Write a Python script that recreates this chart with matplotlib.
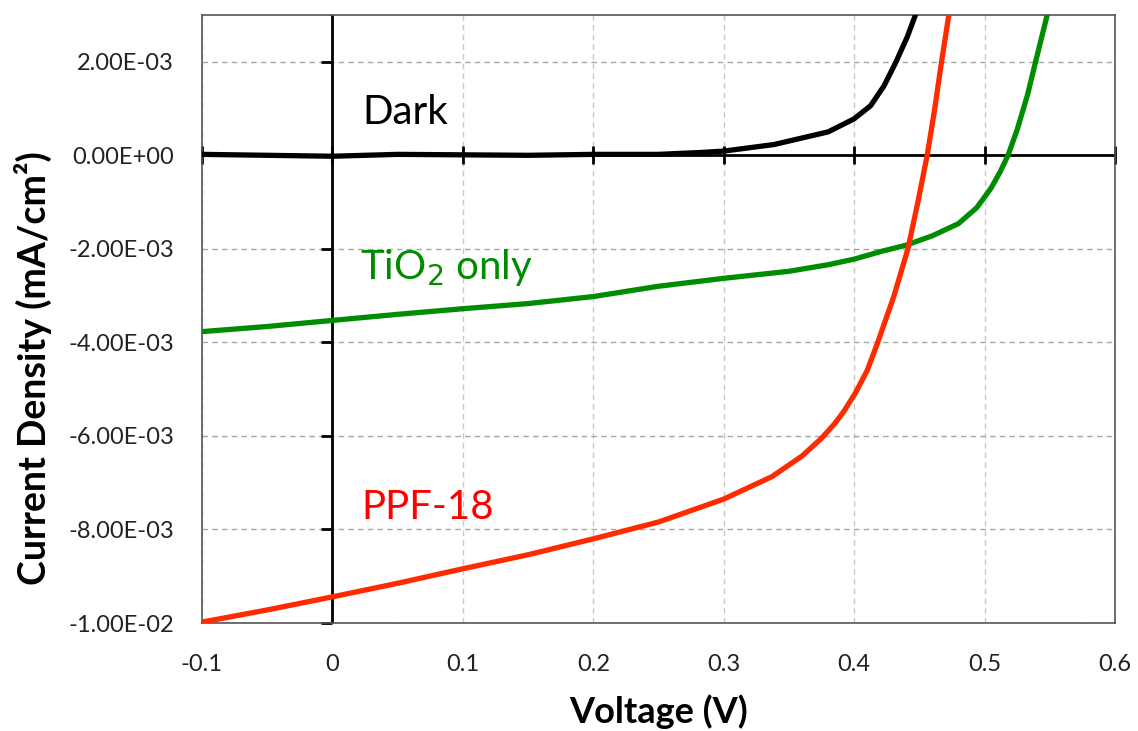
import matplotlib
matplotlib.use("Agg")
import matplotlib.pyplot as plt
from matplotlib import markers
import numpy as np

# Data
v_dark = [-0.1, -0.05, 0.0, 0.05, 0.1, 0.15, 0.2, 0.25, 0.282, 0.3, 0.3385, 0.38,
          0.4, 0.4126, 0.4228, 0.4318, 0.4407, 0.447]
j_dark = [0.00002, 0.0, -0.00002, 0.00002, 0.00001, 0.0, 0.00002, 0.00002, 0.00006,
          0.00009, 0.00023, 0.0005, 0.00078, 0.00106, 0.00148, 0.00198, 0.00253, 0.003]

v_tio2 = [-0.1, -0.05, 0.0, 0.05, 0.1, 0.15, 0.2, 0.25, 0.3, 0.35, 0.38, 0.4, 0.42,
          0.44, 0.46, 0.48, 0.494, 0.505, 0.512, 0.518, 0.525, 0.533, 0.54, 0.548]
j_tio2 = [-0.00377, -0.00366, -0.00353, -0.0034, -0.00328, -0.00317, -0.00302,
          -0.0028, -0.00263, -0.00248, -0.00234, -0.00222, -0.00206, -0.00192,
          -0.00172, -0.00146, -0.00112, -0.0007, -0.00035, 0.0, 0.00055, 0.0013,
          0.0021, 0.003]

v_ppf = [-0.1, -0.05, 0.0, 0.05, 0.1, 0.15, 0.2, 0.25, 0.3, 0.337, 0.36, 0.375,
         0.385, 0.392, 0.401, 0.41, 0.4177, 0.4305, 0.4412, 0.4488, 0.456, 0.4617,
         0.467, 0.4726]
j_ppf = [-0.00998, -0.00972, -0.00944, -0.00915, -0.00884, -0.00854, -0.0082,
         -0.00784, -0.00735, -0.00687, -0.00643, -0.00605, -0.00574, -0.00548,
         -0.00508, -0.0046, -0.00403, -0.00301, -0.002, -0.00101, 0.0, 0.00098,
         0.002, 0.003]

x_ticks = [-0.1, 0.0, 0.1, 0.2, 0.3, 0.4, 0.5, 0.6]
x_labels = ["-0.1", "0", "0.1", "0.2", "0.3", "0.4", "0.5", "0.6"]
y_ticks = [-0.01, -0.008, -0.006, -0.004, -0.002, 0.0, 0.002]
y_labels = ["-1.00E-02", "-8.00E-03", "-6.00E-03", "-4.00E-03", "-2.00E-03",
            "0.00E+00", "2.00E-03"]

plt.rcParams["font.family"] = ["Lato", "DejaVu Sans"]
plt.rcParams["axes.unicode_minus"] = False

fig = plt.figure(figsize=(11.38, 7.31), dpi=100)
ax = fig.add_axes([0.1775, 0.1477, 0.8023, 0.8318])

# grid
for x in x_ticks:
    ax.axvline(x, color="#c8c8c8", lw=1.0, ls=(0, (4, 3)), zorder=0)
for y in y_ticks:
    ax.axhline(y, color="#a6a6a6", lw=1.0, ls=(0, (4, 3)), zorder=0)

# axes through the origin
ax.axhline(0, color="black", lw=2.0, zorder=2)
ax.axvline(0, color="black", lw=2.0, zorder=2)
ax.plot(x_ticks, np.zeros(len(x_ticks)), ls="none", marker="|", ms=13, mew=2.0,
        color="black", zorder=2, clip_on=False)
ax.plot(np.zeros(len(y_ticks)), y_ticks, ls="none", marker=markers.TICKLEFT, ms=8,
        mew=2.0, color="black", zorder=2, clip_on=False)

lw = 3.8
ax.plot(v_dark, j_dark, color="black", lw=lw, zorder=3)
ax.plot(v_tio2, j_tio2, color="#008c00", lw=lw, zorder=3)
ax.plot(v_ppf, j_ppf, color="#ff2a00", lw=lw, zorder=3)

ax.text(0.023, 0.00092, "Dark", fontsize=29, color="black", va="center")
ax.text(0.021, -0.0024, "TiO$_2$ only", fontsize=29, color="#008c00", va="center")
ax.text(0.022, -0.00754, "PPF-18", fontsize=29, color="#ff0000", va="center")

ax.set_xlim(-0.1, 0.6)
ax.set_ylim(-0.01, 0.003)
ax.set_xticks(x_ticks)
ax.set_xticklabels(x_labels)
ax.set_yticks(y_ticks)
ax.set_yticklabels(y_labels)
ax.tick_params(axis="both", length=0, labelsize=17, colors="#222222")
ax.tick_params(axis="x", pad=22)
ax.tick_params(axis="y", pad=20)

for s in ax.spines.values():
    s.set_color("#555555")
    s.set_linewidth(1.2)

ax.set_xlabel("Voltage (V)", fontsize=26, fontweight="bold", va="center")
ax.set_ylabel("Current Density (mA/cm²)", fontsize=27, fontweight="bold", va="center")
ax.xaxis.set_label_coords(0.5, -0.146)
ax.yaxis.set_label_coords(-0.185, 0.42)

fig.savefig("out.png", dpi=100)
plt.close()
